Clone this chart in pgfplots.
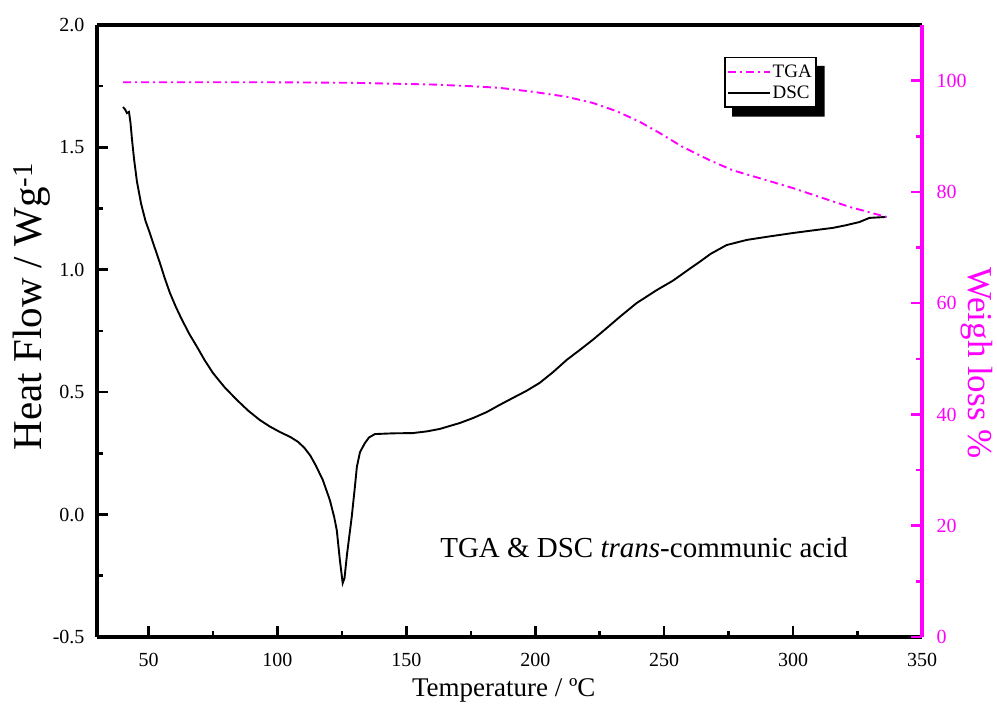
\documentclass[border=0pt]{standalone}
\usepackage{fontspec}
\setmainfont{Liberation Serif}
\usepackage{pgfplots}
\pgfplotsset{compat=1.18}
\definecolor{mag}{RGB}{255,0,255}

\begin{document}
\begin{tikzpicture}
\useasboundingbox (-97pt,-69pt) rectangle (900pt,637pt);
% DSC axis
\begin{axis}[
  at={(0,0)}, anchor=south west,
  scale only axis, width=825pt, height=612pt,
  xmin=30, xmax=350, ymin=-0.5, ymax=2,
  xtick={50,100,150,200,250,300,350}, minor x tick num=1,
  ytick={-0.5,0,0.5,1,1.5,2}, minor y tick num=1,
  xtick pos=left, ytick pos=left, tick align=inside,
  major tick length=11pt, minor tick length=6pt,
  separate axis lines,
  axis line style={line width=3.2pt, black},
  major tick style={black, line width=2.6pt},
  minor tick style={black, line width=2.6pt},
  /pgf/number format/assume math mode=true,
  tick label style={font=\fontsize{20}{24}\selectfont},
  xticklabel style={yshift=-13pt},
  yticklabel style={xshift=-9pt, /pgf/number format/fixed, /pgf/number format/fixed zerofill, /pgf/number format/precision=1},
  xlabel={Temperature / ºC},
  xlabel style={font=\fontsize{27}{30}\selectfont, at={(axis description cs:0.493,-0.087)}, anchor=center},
  ylabel={Heat Flow / Wg\textsuperscript{-1}},
  ylabel style={font=\fontsize{41}{44}\selectfont, at={(axis description cs:-0.079,0.54)}, anchor=center},
]
\addplot[black, line width=1.9pt] coordinates {
(40.1,1.665) (40.9,1.655) (41.6,1.64) (42.4,1.645) (43.0,1.60) (43.6,1.53) (44.4,1.45)
(45.5,1.36) (47.1,1.27) (48.8,1.20) (50.5,1.15) (52.4,1.09) (54.4,1.028) (56.3,0.965) (58.3,0.905)
(60.6,0.848) (63.0,0.795) (65.8,0.738) (68.8,0.685) (71.8,0.630) (75.0,0.578) (79.5,0.520)
(84.3,0.468) (88.6,0.425) (93.2,0.386) (97.0,0.360) (101.0,0.337) (105.0,0.317) (108.0,0.297)
(110.5,0.272) (112.8,0.240) (114.9,0.200) (117.6,0.141) (120.3,0.06) (122.0,-0.01) (123.0,-0.063)
(124.2,-0.185) (125.3,-0.28) (126.0,-0.26) (127.0,-0.16) (128.8,-0.01) (130.0,0.11)
(130.8,0.195) (132.0,0.255) (133.9,0.292) (135.5,0.315) (137.8,0.329) (145,0.332)
(152.5,0.333) (158,0.340) (163,0.35) (170.7,0.374) (176,0.395) (181.2,0.419) (186,0.447) (191.2,0.476) (196.5,0.505) (201.7,0.538)
(207,0.583) (212.2,0.632) (217.2,0.672) (222.2,0.713) (227.5,0.760) (232.7,0.807) (239.3,0.864) (247.1,0.917) (253.3,0.955)
(256,0.975) (260,1.005) (263.7,1.032) (268,1.065) (274.2,1.101) (282,1.122) (290,1.135) (299.8,1.15)
(307,1.160) (315.3,1.171) (320.5,1.182) (325.7,1.195) (329.6,1.212) (336.2,1.216)
};
\node[font=\fontsize{29}{32}\selectfont] at (axis cs:242.2,-0.136) {TGA \& DSC \textit{trans}-communic acid};
\end{axis}
% TGA axis
\begin{axis}[
  at={(0,0)}, anchor=south west,
  scale only axis, width=825pt, height=612pt,
  xmin=30, xmax=350, ymin=0, ymax=110,
  axis x line=none, axis y line*=right,
  ytick={0,20,40,60,80,100}, minor y tick num=1,
  ytick pos=right, tick align=inside,
  major tick length=11pt, minor tick length=6pt,
  y axis line style={-, line width=3.4pt, mag},
  major tick style={mag, line width=2.6pt},
  minor tick style={mag, line width=2.6pt},
  /pgf/number format/assume math mode=true,
  yticklabel style={font=\fontsize{20}{24}\selectfont, text=mag, xshift=11pt},
  ylabel={Weigh loss \%},
  ylabel style={font=\fontsize{35}{38}\selectfont, text=mag, at={(axis description cs:1.067,0.448)}, anchor=center, rotate=180},
  legend cell align=left,
  legend image code/.code={\draw[#1] (0pt,0pt) -- (42pt,0pt);},
  legend style={name=leg, at={(0.76,0.948)}, anchor=north west, draw=black, line width=1.6pt, fill=white,
    font=\fontsize{19}{22}\selectfont, inner xsep=2pt, inner ysep=5pt, row sep=3pt,
    /tikz/every even column/.append style={column sep=4pt}},
]
\addplot[mag, line width=1.9pt, dash pattern=on 8pt off 4pt on 2pt off 4pt] coordinates {
(40.1,99.7) (70,99.7) (100,99.7) (130,99.6) (160,99.3) (175,99.0) (186.2,98.7) (199,98.0)
(212.2,97.1) (222.2,96.0) (231.6,94.5) (240.5,92.6) (248.2,90.6) (257.1,88.1)
(267.6,85.7) (276.5,83.9) (289.7,82.1) (299.8,80.7) (310.2,79.1) (321.9,77.3) (336.2,75.5)
};
\addlegendentry{TGA}
\addlegendimage{black, line width=1.9pt}
\addlegendentry{DSC}
\end{axis}
\fill[black] ([xshift=8pt]leg.south west) -- ([xshift=8pt,yshift=-9pt]leg.south west)
  -- ([xshift=8pt,yshift=-9pt]leg.south east) -- ([xshift=8pt,yshift=-9pt]leg.north east)
  -- ([yshift=-9pt]leg.north east) -- (leg.south east) -- cycle;
\end{tikzpicture}
\end{document}
